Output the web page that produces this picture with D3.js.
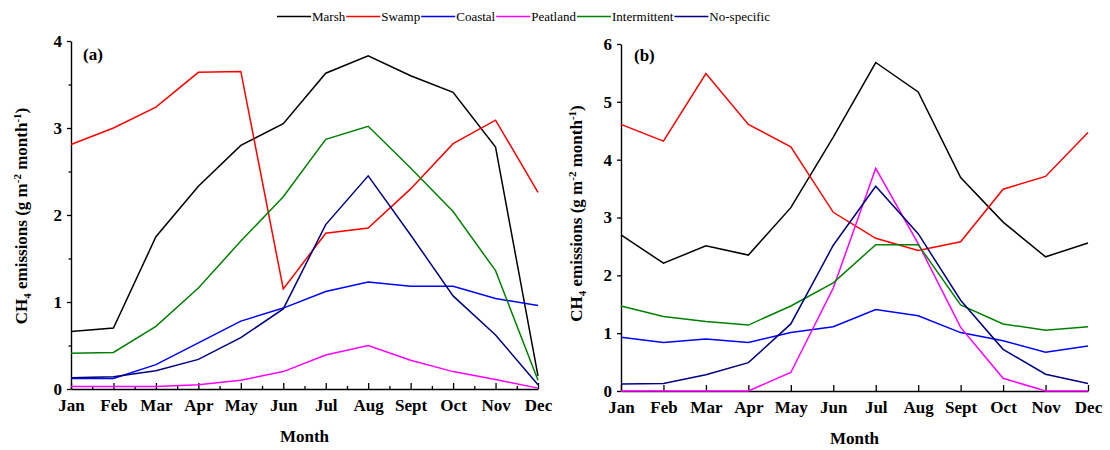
<!DOCTYPE html>
<html>
<head>
<meta charset="utf-8">
<script src="https://cdn.jsdelivr.net/npm/d3@7"></script>
<style>
  body { margin: 0; background: #fff; }
  svg text { font-family: "Liberation Serif", "DejaVu Serif", serif; }
</style>
</head>
<body>
<div id="chart"></div>
<script>
// month labels and series names
var months = ["Jan", "Feb", "Mar", "Apr", "May", "Jun", "Jul", "Aug", "Sept", "Oct", "Nov", "Dec"];
var seriesNames = ["Marsh", "Swamp", "Coastal", "Peatland", "Intermittent", "No-specific"];
var seriesColors = ["#000000", "#ff0000", "#0000ff", "#ff00ff", "#008000", "#000080"];

// panel (a) values
var marshA        = [0.66, 0.70, 1.75, 2.33, 2.80, 3.05, 3.63, 3.83, 3.60, 3.41, 2.78, 0.15];
var swampA        = [2.81, 3.00, 3.24, 3.64, 3.65, 1.15, 1.79, 1.85, 2.30, 2.82, 3.09, 2.26];
var coastalA      = [0.12, 0.12, 0.28, 0.53, 0.78, 0.93, 1.12, 1.23, 1.18, 1.18, 1.04, 0.96];
var peatlandA     = [0.03, 0.03, 0.03, 0.05, 0.10, 0.20, 0.39, 0.50, 0.33, 0.20, 0.11, 0.01];
var intermittentA = [0.41, 0.42, 0.72, 1.16, 1.70, 2.21, 2.87, 3.02, 2.54, 2.04, 1.36, 0.10];
var nospecificA   = [0.13, 0.14, 0.21, 0.34, 0.59, 0.92, 1.89, 2.45, 1.77, 1.07, 0.62, 0.05];

// panel (b) values
var marshB        = [2.70, 2.21, 2.51, 2.35, 3.17, 4.39, 5.68, 5.17, 3.69, 2.92, 2.32, 2.56];
var swampB        = [4.61, 4.32, 5.49, 4.61, 4.22, 3.09, 2.64, 2.43, 2.58, 3.49, 3.71, 4.47];
var coastalB      = [0.93, 0.84, 0.90, 0.84, 1.01, 1.11, 1.41, 1.30, 1.01, 0.87, 0.67, 0.78];
var peatlandB     = [0.00, 0.00, 0.00, 0.00, 0.32, 1.78, 3.85, 2.55, 1.10, 0.22, 0.00, 0.00];
var intermittentB = [1.47, 1.29, 1.20, 1.14, 1.47, 1.87, 2.53, 2.53, 1.49, 1.16, 1.05, 1.11];
var nospecificB   = [0.12, 0.13, 0.28, 0.49, 1.16, 2.52, 3.54, 2.72, 1.57, 0.72, 0.29, 0.13];

var yTicksA = [0, 1, 2, 3, 4];
var yTicksB = [0, 1, 2, 3, 4, 5, 6];

var serif = "'Liberation Serif', 'DejaVu Serif', serif";

var svg = d3.select("#chart").append("svg")
  .attr("width", 1110)
  .attr("height", 450);

/** Legend **/
var legend = svg.append("g").attr("class", "legend");
var lx = 277;
seriesNames.forEach(function(name, i){
  legend.append("line")
    .attr("x1", lx).attr("x2", lx + 34)
    .attr("y1", 16.5).attr("y2", 16.5)
    .style("stroke", seriesColors[i])
    .style("stroke-width", 1.5);
  var t = legend.append("text")
    .attr("x", lx + 35)
    .attr("y", 21)
    .style("font-family", serif)
    .style("font-size", "13px")
    .text(name);
  lx = lx + 35 + t.node().getComputedTextLength() + 1;
});

/*
 * draw one panel
 */
function drawPanel(opt){
  var g = svg.append("g")
    .attr("transform", "translate(" + opt.left + "," + opt.top + ")");

  var x = d3.scaleLinear().domain([0, 11]).range([0, opt.width]);
  var y = d3.scaleLinear().domain([0, opt.yMax]).range([opt.height, 0]);

  // minor ticks first so the axis line sits on top
  if (opt.minor) {
    var halfMonths = d3.range(0.5, 11, 1);
    g.append("g")
      .attr("transform", "translate(0," + opt.height + ")")
      .call(d3.axisBottom(x).tickValues(halfMonths).tickSize(-3).tickFormat(""))
      .call(function(a){ a.select(".domain").remove(); })
      .selectAll("line").style("stroke-width", 1.3);
    g.append("g")
      .call(d3.axisLeft(y).tickValues(d3.range(0.5, opt.yMax, 1)).tickSize(2.5).tickFormat(""))
      .call(function(a){ a.select(".domain").remove(); })
      .selectAll("line").style("stroke-width", 1.3);
  }

  var xAxis = g.append("g")
    .attr("transform", "translate(0," + opt.height + ")")
    .call(d3.axisBottom(x)
      .tickValues(d3.range(0, 12))
      .tickSize(-6)
      .tickSizeOuter(0)
      .tickPadding(10)
      .tickFormat(function(i){ return months[i]; }));
  xAxis.selectAll("text")
    .style("font-family", serif)
    .style("font-size", "17px")
    .style("font-weight", "bold")
    .style("fill", "#000");

  var yAxis = g.append("g")
    .call(d3.axisLeft(y)
      .tickValues(opt.yTicks)
      .tickSize(4)
      .tickSizeOuter(0)
      .tickPadding(5)
      .tickFormat(d3.format("d")));
  yAxis.selectAll("text")
    .style("font-family", serif)
    .style("font-size", "17px")
    .style("font-weight", "bold")
    .style("fill", "#000");

  g.selectAll(".domain").style("stroke-width", 1.4);
  g.selectAll(".tick line").style("stroke-width", 1.3);

  // lines
  var line = d3.line()
    .x(function(d, i){ return x(i); })
    .y(function(d){ return y(d); });

  opt.series.forEach(function(vals, i){
    g.append("path")
      .datum(vals)
      .attr("d", line)
      .style("fill", "none")
      .style("stroke", seriesColors[i])
      .style("stroke-width", 1.5);
  });

  // panel letter
  g.append("text")
    .attr("x", opt.labelX)
    .attr("y", opt.labelY)
    .style("font-family", serif)
    .style("font-size", "17px")
    .style("font-weight", "bold")
    .text(opt.label);

  // x title
  g.append("text")
    .attr("x", opt.width / 2)
    .attr("y", opt.height + 53)
    .attr("text-anchor", "middle")
    .style("font-family", serif)
    .style("font-size", "17px")
    .style("font-weight", "bold")
    .text("Month");

  // y title with sub / superscripts
  var yt = g.append("text")
    .attr("transform", "translate(" + opt.yTitleX + "," + (opt.height / 2 + opt.yTitleShift) + ") rotate(-90)")
    .attr("text-anchor", "middle")
    .style("font-family", serif)
    .style("font-size", "17px")
    .style("font-weight", "bold");
  yt.append("tspan").text("CH");
  yt.append("tspan").attr("dy", 4).style("font-size", "11px").text("4");
  yt.append("tspan").attr("dy", -4).text(" emissions (g m");
  yt.append("tspan").attr("dy", -6).style("font-size", "11px").text("-2");
  yt.append("tspan").attr("dy", 6).text(" month");
  yt.append("tspan").attr("dy", -6).style("font-size", "11px").text("-1");
  yt.append("tspan").attr("dy", 6).text(")");
}

drawPanel({
  left: 71, top: 41, width: 467, height: 348, yMax: 4, yTicks: yTicksA,
  minor: true, label: "(a)", labelX: 12, labelY: 19, yTitleX: -44, yTitleShift: 1,
  series: [marshA, swampA, coastalA, peatlandA, intermittentA, nospecificA]
});

drawPanel({
  left: 621, top: 44, width: 467, height: 347, yMax: 6, yTicks: yTicksB,
  minor: false, label: "(b)", labelX: 13, labelY: 17, yTitleX: -39, yTitleShift: -4,
  series: [marshB, swampB, coastalB, peatlandB, intermittentB, nospecificB]
});
</script>
</body>
</html>
